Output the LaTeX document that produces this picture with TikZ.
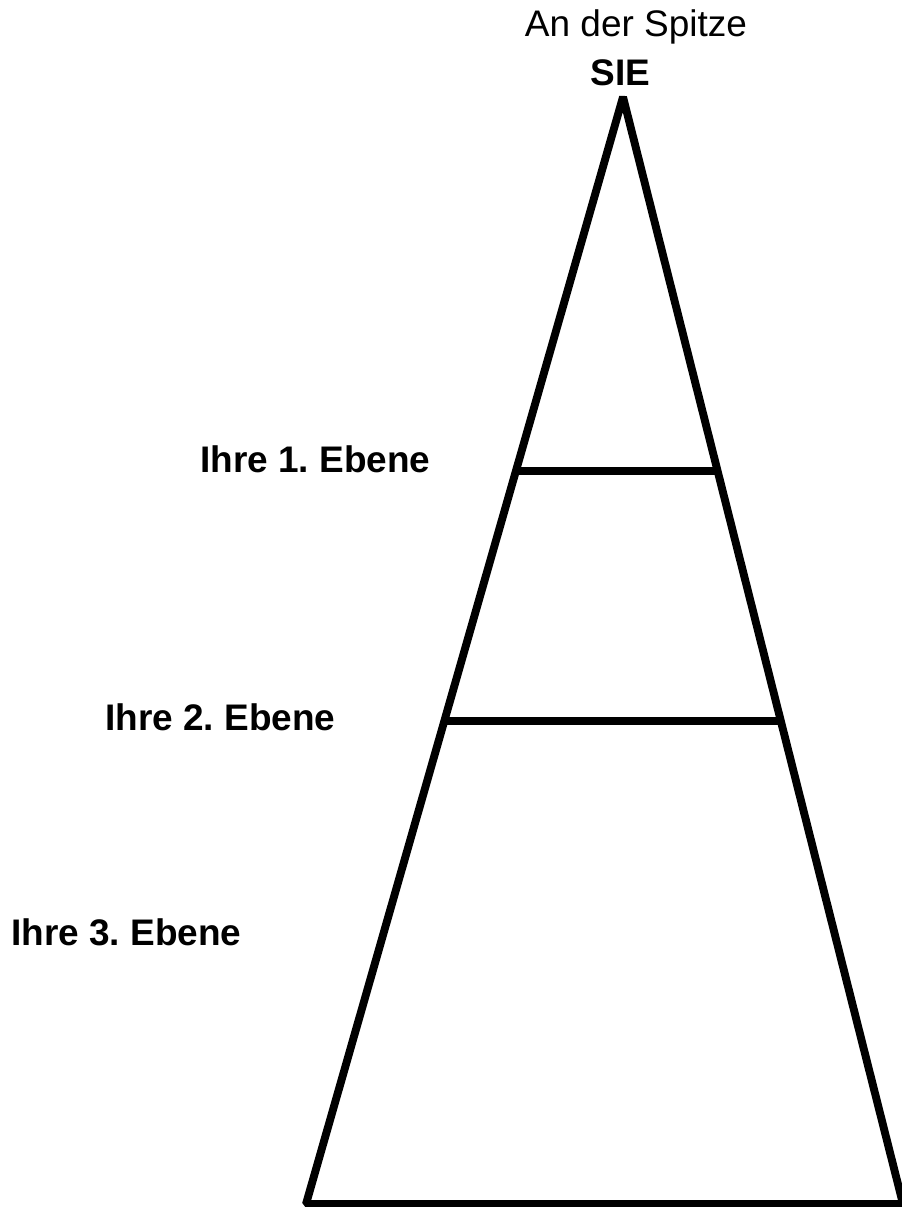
\documentclass[tikz,border=0pt]{standalone}
\usepackage{fontspec}
\setmainfont{Liberation Sans}
\usetikzlibrary{positioning, calc}

\begin{document}
\begin{tikzpicture}[
            x=0.025cm, y=-0.025cm,
            edge/.style={line width=5.6pt, black, line join=bevel},
            level/.style={line width=5.6pt, black},
            lbl/.style={font=\fontsize{26.3}{31}\selectfont\bfseries\frenchspacing, anchor=base west, inner sep=0pt},
            tip/.style={font=\fontsize{26.3}{31}\selectfont, anchor=base, inner sep=0pt},
        ]
            \useasboundingbox (0,0) rectangle (901,1207);

            % Corners of the pyramid
            \coordinate (top) at (623,97);
            \coordinate (bl) at (306,1204);
            \coordinate (br) at (903,1204);

            % Outline
            \draw[edge] (top) -- (br) -- (bl) -- cycle;

            % Level lines
            \draw[level] ($(top)!0.3378!(bl)$) coordinate (l1a) -- ($(top)!0.3378!(br)$) coordinate (l1b);
            \draw[level] ($(top)!0.5637!(bl)$) coordinate (l2a) -- ($(top)!0.5637!(br)$) coordinate (l2b);

            % Top labels
            \node[tip] (spitze) at (636,37) {An der Spitze};
            \node[tip, font=\fontsize{26.3}{31}\selectfont\bfseries] (sie) at (620.5,86) {SIE};

            % Level labels
            \node[lbl] (ebene1) at (200,472) {Ihre 1. Ebene};
            \node[lbl] (ebene2) at (105,730) {Ihre 2. Ebene};
            \node[lbl] (ebene3) at (11,945) {Ihre 3. Ebene};
        \end{tikzpicture}
\end{document}
